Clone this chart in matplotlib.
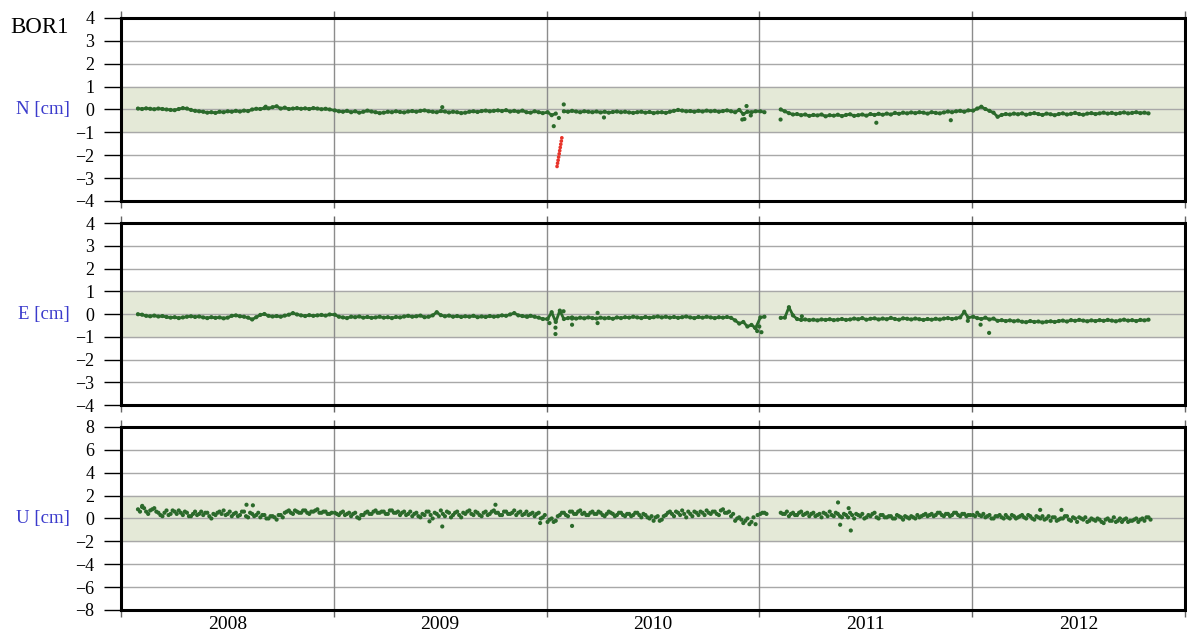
import numpy as np
import matplotlib.pyplot as plt
from matplotlib.ticker import MultipleLocator, NullFormatter, FixedLocator, FixedFormatter

plt.rcParams['font.family'] = ['Liberation Serif', 'DejaVu Serif']

nan = np.nan
step = 7 / 365.25          # weekly samples, time in decimal years
year_start = {2008: 2008.08, 2009: 2009.005, 2010: 2010.005, 2011: 2011.005, 2012: 2012.005}

# ---- North [cm], weekly values
n_2008 = [0.04, 0.02, 0.05, 0.03, 0.01, 0.04, 0.02, 0.00, -0.02, -0.03,
          0.02, 0.06, 0.04, -0.02, -0.06, -0.08, -0.10, -0.14, -0.12, -0.15,
          -0.10, -0.12, -0.08, -0.10, -0.06, -0.09, -0.05, -0.07, 0.00, 0.03,
          0.02, 0.06, 0.05, 0.10, 0.14, 0.04, 0.08, 0.02, 0.04, 0.06,
          0.03, 0.05, 0.02, 0.06, 0.04, 0.01, 0.03, 0.00]
n_2009 = [-0.04, -0.08, -0.10, -0.06, -0.12, -0.08, -0.14, -0.10, -0.05, -0.09,
          -0.12, -0.16, -0.14, -0.10, -0.12, -0.08, -0.11, -0.13, -0.09, -0.07,
          -0.10, -0.06, -0.04, -0.08, -0.10, -0.12, -0.07, -0.09, -0.13, -0.10,
          -0.12, -0.16, -0.14, -0.10, -0.08, -0.11, -0.07, -0.05, -0.08, -0.06,
          -0.04, -0.07, -0.03, -0.09, -0.06, -0.10, -0.05, -0.12, -0.14, -0.08, -0.12, -0.16]
n_2010 = [-0.12, -0.25, -0.18, nan, -0.08, -0.10, -0.06, -0.09, -0.12, -0.08,
          -0.10, -0.12, -0.09, -0.13, -0.10, -0.14, -0.11, -0.09, -0.12, -0.10,
          -0.13, -0.15, -0.12, -0.10, -0.14, -0.11, -0.16, -0.13, -0.12, -0.15,
          -0.10, -0.06, -0.02, -0.05, -0.08, -0.07, -0.10, -0.06, -0.09, -0.05,
          -0.08, -0.06, -0.10, -0.07, -0.04, -0.08, -0.12, -0.02, -0.20, -0.10, -0.12, -0.08]
n_2011 = [-0.08, -0.12, nan, nan, nan, 0.00, -0.08, -0.16, -0.22, -0.20,
          -0.25, -0.22, -0.28, -0.24, -0.26, -0.22, -0.30, -0.25, -0.27, -0.23,
          -0.29, -0.24, -0.21, -0.28, -0.25, -0.22, -0.27, -0.20, -0.24, -0.19,
          -0.23, -0.18, -0.22, -0.15, -0.19, -0.14, -0.17, -0.13, -0.16, -0.12,
          -0.14, -0.18, -0.12, -0.15, -0.17, -0.13, -0.09, -0.12, -0.08, -0.06, -0.10, -0.04]
n_2012 = [-0.05, 0.04, 0.12, 0.02, -0.06, -0.14, -0.32, -0.24, -0.20, -0.22,
          -0.18, -0.21, -0.17, -0.23, -0.19, -0.16, -0.20, -0.24, -0.18, -0.21,
          -0.25, -0.20, -0.17, -0.22, -0.19, -0.15, -0.20, -0.23, -0.18, -0.16,
          -0.20, -0.17, -0.14, -0.18, -0.15, -0.19, -0.16, -0.13, -0.17, -0.15,
          -0.12, -0.16, -0.14, -0.17]
n_out_t = [2008.68, 2009.51, 2010.034, 2010.058, 2010.081, 2010.27, 2010.92, 2010.93, 2010.94, 2010.96,
           2011.10, 2011.55, 2011.90]
n_out_v = [0.12, 0.10, -0.73, -0.37, 0.22, -0.35, -0.44, -0.42, 0.15, -0.26,
           -0.44, -0.58, -0.47]
# rejected epochs (red)
red_t = [2010.0495, 2010.052, 2010.0545, 2010.057, 2010.0595, 2010.062, 2010.0645, 2010.067, 2010.0695, 2010.072]
red_v = [-2.49, -2.35, -2.22, -2.08, -1.94, -1.80, -1.66, -1.52, -1.38, -1.24]

# ---- East [cm]
e_2008 = [-0.01, -0.03, -0.08, -0.10, -0.07, -0.11, -0.09, -0.13, -0.16, -0.14,
          -0.18, -0.15, -0.12, -0.10, -0.13, -0.11, -0.15, -0.18, -0.14, -0.17,
          -0.15, -0.19, -0.16, -0.08, -0.06, -0.10, -0.12, -0.16, -0.24, -0.14,
          -0.04, 0.00, -0.08, -0.11, -0.09, -0.12, -0.07, -0.03, 0.04, -0.02,
          -0.06, -0.09, -0.05, -0.08, -0.06, -0.04, -0.07, -0.02]
e_2009 = [-0.03, -0.12, -0.15, -0.18, -0.12, -0.14, -0.11, -0.16, -0.13, -0.17,
          -0.15, -0.12, -0.16, -0.14, -0.18, -0.13, -0.15, -0.11, -0.08, -0.12,
          -0.10, -0.07, -0.14, -0.12, -0.06, 0.08, -0.05, -0.10, -0.07, -0.12,
          -0.09, -0.13, -0.10, -0.12, -0.08, -0.14, -0.11, -0.13, -0.09, -0.12,
          -0.10, -0.06, -0.08, -0.02, 0.04, -0.06, -0.09, -0.11, -0.08, -0.12, -0.16, -0.22]
e_2010 = [-0.22, 0.08, -0.35, 0.15, -0.22, -0.18, -0.15, -0.20, -0.16, -0.19,
          -0.15, -0.18, -0.20, -0.16, -0.19, -0.17, -0.21, -0.15, -0.18, -0.14,
          -0.16, -0.12, -0.15, -0.18, -0.13, -0.17, -0.14, -0.11, -0.15, -0.12,
          -0.16, -0.13, -0.17, -0.14, -0.11, -0.15, -0.18, -0.13, -0.16, -0.12,
          -0.15, -0.18, -0.14, -0.16, -0.13, -0.17, -0.28, -0.42, -0.35, -0.55, -0.48, -0.62]
e_2011 = [-0.15, -0.12, nan, nan, nan, -0.17, -0.16, 0.30, -0.06, -0.22,
          -0.26, -0.24, -0.27, -0.25, -0.28, -0.24, -0.26, -0.23, -0.27, -0.25,
          -0.22, -0.26, -0.24, -0.20, -0.23, -0.18, -0.25, -0.21, -0.19, -0.24,
          -0.20, -0.23, -0.17, -0.22, -0.25, -0.19, -0.21, -0.24, -0.20, -0.23,
          -0.26, -0.22, -0.25, -0.21, -0.24, -0.20, -0.18, -0.22, -0.19, -0.15, 0.10, -0.16]
e_2012 = [-0.12, -0.18, -0.22, -0.16, -0.24, -0.20, -0.30, -0.27, -0.31, -0.28,
          -0.32, -0.29, -0.34, -0.36, -0.31, -0.35, -0.33, -0.37, -0.34, -0.32,
          -0.35, -0.31, -0.29, -0.33, -0.27, -0.30, -0.26, -0.29, -0.32, -0.28,
          -0.31, -0.27, -0.30, -0.26, -0.29, -0.32, -0.28, -0.25, -0.29, -0.27,
          -0.31, -0.26, -0.28, -0.25]
e_out_t = [2009.91, 2010.014, 2010.042, 2010.042, 2010.08, 2010.12, 2010.12, 2010.24, 2010.24,
           2010.98, 2010.99, 2011.0, 2011.01, 2011.20, 2011.98, 2012.04, 2012.08]
e_out_v = [-0.12, -0.40, -0.60, -0.88, 0.12, -0.47, -0.20, 0.05, -0.40,
           -0.60, -0.75, -0.55, -0.80, -0.10, -0.30, -0.47, -0.83]

# ---- Up [cm], weekly values plus a second set read half a week later
u_2008 = [0.8, 1.0, 0.6, 0.7, 0.9, 0.5, 0.2, 0.7, 0.4, 0.6,
          0.7, 0.3, 0.5, 0.2, 0.6, 0.4, 0.3, 0.5, 0.0, 0.3,
          0.6, 0.7, 0.4, 0.2, 0.5, 0.3, 0.6, 0.1, 0.4, 0.3,
          0.1, 0.3, 0.0, 0.2, -0.1, 0.3, 0.5, 0.7, 0.4, 0.6,
          0.5, 0.7, 0.4, 0.6, 0.8, 0.5, 0.6, 0.4]
u_2009 = [0.5, 0.3, 0.6, 0.4, 0.2, 0.5, 0.0, 0.3, 0.6, 0.4,
          0.7, 0.5, 0.6, 0.4, 0.7, 0.5, 0.3, 0.6, 0.4, 0.2,
          0.5, 0.1, 0.3, 0.6, 0.0, 0.4, 0.7, 0.2, 0.5, 0.3,
          0.6, 0.1, 0.4, 0.7, 0.3, 0.5, 0.2, 0.6, 0.4, 0.7,
          0.5, 0.3, 0.6, 0.4, 0.7, 0.5, 0.3, 0.6, 0.4, 0.2, 0.5, 0.1]
u_2010 = [-0.3, 0.0, -0.2, 0.3, 0.5, 0.2, 0.6, 0.4, 0.7, 0.5,
          0.3, 0.6, 0.4, 0.5, 0.2, 0.6, 0.4, 0.3, 0.5, 0.2,
          0.4, 0.3, 0.5, 0.1, 0.3, 0.0, -0.2, 0.2, -0.1, 0.3,
          0.6, 0.2, 0.5, 0.7, 0.1, 0.4, 0.6, 0.3, 0.5, 0.7,
          0.4, 0.6, 0.3, 0.8, 0.5, 0.2, -0.2, 0.1, -0.4, 0.0, -0.3, -0.5]
u_2011 = [0.4, 0.5, nan, nan, nan, 0.5, 0.4, 0.2, 0.5, 0.3,
          0.6, 0.4, 0.2, 0.5, 0.3, 0.1, 0.4, 0.6, 0.2, 0.4,
          0.1, 0.3, 0.5, 0.0, 0.3, 0.4, 0.1, 0.2, 0.5, 0.0,
          0.3, 0.1, 0.2, 0.0, 0.2, -0.1, 0.1, 0.2, 0.0, 0.1,
          0.3, 0.2, 0.4, 0.3, 0.5, 0.2, 0.4, 0.3, 0.5, 0.2, 0.4, 0.3]
u_2012 = [0.3, 0.5, 0.2, 0.1, 0.3, 0.0, 0.2, 0.1, 0.3, 0.0,
          0.2, 0.1, 0.3, 0.0, 0.2, -0.1, 0.1, 0.2, 0.0, -0.2,
          0.1, -0.1, 0.0, 0.2, -0.2, 0.0, 0.1, -0.1, -0.3, 0.0,
          -0.2, -0.1, -0.4, 0.0, -0.2, -0.3, 0.0, -0.1, -0.3, -0.2,
          0.0, -0.1, -0.2, 0.1]
u_mid_2008 = [0.6, 0.9, 0.4, 0.8, 0.6, 0.3, 0.5, 0.3, 0.7, 0.4,
              0.5, 0.6, 0.2, 0.4, 0.3, 0.6, 0.5, 0.2, 0.4, 0.5,
              0.4, 0.3, 0.6, 0.4, 0.2, 0.6, 0.2, 0.5, 0.2, 0.5,
              0.3, 0.0, 0.2, 0.1, 0.3, 0.1, 0.6, 0.5, 0.7, 0.5,
              0.7, 0.5, 0.6, 0.7, 0.5, 0.6, 0.4, 0.5]
u_mid_2009 = [0.4, 0.5, 0.3, 0.5, 0.4, 0.1, 0.3, 0.5, 0.4, 0.6,
              0.5, 0.6, 0.4, 0.7, 0.5, 0.6, 0.5, 0.3, 0.6, 0.4,
              0.2, 0.4, 0.6, 0.3, 0.5, 0.2, 0.4, 0.6, 0.1, 0.5,
              0.3, 0.5, 0.6, 0.4, 0.6, 0.3, 0.5, 0.3, 0.6, 0.5,
              0.3, 0.6, 0.4, 0.5, 0.3, 0.6, 0.4, 0.3, 0.5, 0.4, 0.0, 0.3]
u_mid_2010 = [-0.1, -0.3, 0.2, 0.5, 0.3, 0.6, 0.4, 0.6, 0.4, 0.3,
              0.5, 0.4, 0.6, 0.3, 0.4, 0.5, 0.2, 0.5, 0.3, 0.4,
              0.2, 0.5, 0.3, 0.4, 0.1, 0.2, 0.1, -0.2, 0.2, 0.5,
              0.4, 0.6, 0.3, 0.4, 0.6, 0.2, 0.5, 0.6, 0.3, 0.5,
              0.6, 0.4, 0.7, 0.5, 0.6, 0.4, 0.0, -0.1, -0.2, -0.5, 0.1, 0.3]
u_mid_2011 = [0.5, 0.4, nan, nan, nan, 0.4, 0.6, 0.4, 0.3, 0.5,
              0.3, 0.5, 0.4, 0.2, 0.4, 0.5, 0.2, 0.3, 0.5, 0.2,
              0.4, 0.1, 0.3, 0.4, 0.2, 0.0, 0.3, 0.4, 0.1, 0.3,
              0.1, 0.2, 0.0, 0.3, 0.1, 0.2, 0.0, 0.1, 0.3, 0.2,
              0.4, 0.3, 0.2, 0.5, 0.3, 0.4, 0.2, 0.5, 0.3, 0.4, 0.2, 0.3]
u_mid_2012 = [0.2, 0.3, 0.4, 0.2, 0.0, 0.2, 0.3, 0.0, 0.1, 0.3,
              0.0, 0.2, 0.1, 0.3, 0.0, 0.2, 0.0, -0.1, 0.2, 0.1,
              -0.2, 0.0, 0.2, -0.1, 0.1, -0.3, 0.0, 0.1, -0.2, -0.1,
              0.0, -0.3, -0.1, -0.2, 0.1, -0.2, -0.3, 0.0, -0.2, -0.1,
              -0.3, 0.0, 0.1, -0.1]
u_out_t = [2008.10, 2008.59, 2008.62, 2009.45, 2009.51, 2009.76, 2009.97, 2010.12,
           2011.37, 2011.38, 2011.42, 2011.43, 2012.32, 2012.42]
u_out_v = [1.1, 1.2, 1.15, -0.25, -0.7, 1.2, -0.4, -0.65,
           1.4, -0.55, 0.9, -1.05, 0.75, 0.75]

green = '#2b6a2b'
band_col = '#e4e9d7'


def weekly(lists, shift=0.0):
    t, v = [], []
    for yr, vals in zip(sorted(year_start), lists):
        t.extend(year_start[yr] + shift + step * np.arange(len(vals)))
        v.extend(vals)
    return np.array(t), np.array(v)


n_t, n_v = weekly([n_2008, n_2009, n_2010, n_2011, n_2012])
e_t, e_v = weekly([e_2008, e_2009, e_2010, e_2011, e_2012])
u_t1, u_v1 = weekly([u_2008, u_2009, u_2010, u_2011, u_2012])
u_t2, u_v2 = weekly([u_mid_2008, u_mid_2009, u_mid_2010, u_mid_2011, u_mid_2012], step / 2)

fig = plt.figure(figsize=(11.87, 6.35), dpi=100)
boxes = [(0.6835, 0.2882), (0.3622, 0.2866), (0.0394, 0.2882)]
years = [2008, 2009, 2010, 2011, 2012]
panels = [('N [cm]', 4, 1, 1), ('E [cm]', 4, 1, 1), ('U [cm]', 8, 2, 2)]
axes = []

for (label, lim, step_y, band), (b, h) in zip(panels, boxes):
    ax = fig.add_axes([0.1019, b, 0.8963, h])
    axes.append(ax)
    ax.set_xlim(2008, 2013)
    ax.set_ylim(-lim, lim)
    ax.axhspan(-band, band, color=band_col, zorder=0)
    for yv in np.arange(-lim + step_y, lim, step_y):
        ax.axhline(yv, color='#a8a8a8', lw=1.0, zorder=1)
    for yr in years[1:]:
        ax.axvline(yr, color='#8c8c8c', lw=1.0, zorder=1)

    for sp in ax.spines.values():
        sp.set_linewidth(2.2)
        sp.set_zorder(5)
    ax.yaxis.set_major_locator(MultipleLocator(step_y))
    ax.tick_params(axis='y', direction='out', length=12, width=1.0, pad=7, labelsize=13,
                   right=False)
    ax.xaxis.set_major_locator(FixedLocator(list(range(2008, 2014))))
    ax.xaxis.set_major_formatter(NullFormatter())
    ax.tick_params(axis='x', which='major', direction='out', length=5, width=1.0,
                   top=True, bottom=True, color='#666666')
    ax.text(-0.048, 0.5, label, transform=ax.transAxes, ha='right', va='center',
            fontsize=13.5, color='#3b3bcc')

ax_n, ax_e, ax_u = axes

# N and E: dense daily points look like a thick wiggly trace
for ax, t, v in [(ax_n, n_t, n_v), (ax_e, e_t, e_v)]:
    ax.plot(t, v, color=green, lw=2.0, zorder=3)
    ax.scatter(t, v, s=9, color=green, edgecolors='none', zorder=3)
ax_n.scatter(n_out_t, n_out_v, s=9, color=green, edgecolors='none', zorder=3)
ax_e.scatter(e_out_t, e_out_v, s=9, color=green, edgecolors='none', zorder=3)
ax_n.scatter(red_t, red_v, s=7, color='#e8342a', edgecolors='none', zorder=4)

ax_u.scatter(u_t1, u_v1, s=9, color=green, edgecolors='none', zorder=3)
ax_u.scatter(u_t2, u_v2, s=9, color=green, edgecolors='none', zorder=3)
ax_u.scatter(u_out_t, u_out_v, s=9, color=green, edgecolors='none', zorder=3)

ax_u.xaxis.set_minor_locator(FixedLocator([y + 0.5 for y in years]))
ax_u.xaxis.set_minor_formatter(FixedFormatter([str(y) for y in years]))
ax_u.tick_params(axis='x', which='minor', length=0, labelsize=14, pad=4)

fig.text(0.009, 0.957, 'BOR1', fontsize=16.5, ha='left', va='center')

fig.savefig('out.png', dpi=100)
